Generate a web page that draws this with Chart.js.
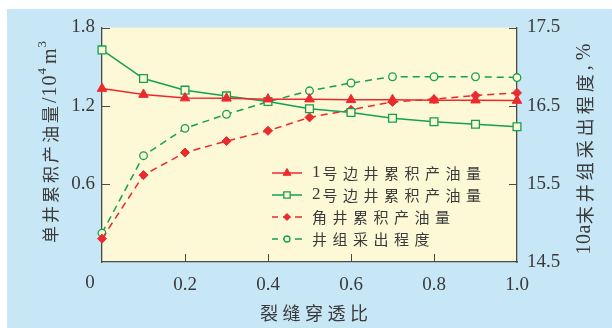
<!DOCTYPE html>
<html>
<head>
<meta charset="utf-8">
<script src="https://cdn.jsdelivr.net/npm/chart.js@4/dist/chart.umd.min.js"></script>
<style>
  html, body { margin: 0; padding: 0; background: #ffffff; }
  canvas { display: block; }
</style>
</head>
<body>
<canvas id="c" width="612" height="328"></canvas>
<script>
// Fracture penetration ratio (x) and tick labels
const penetration = [0, 0.1, 0.2, 0.3, 0.4, 0.5, 0.6, 0.7, 0.8, 0.9, 1.0];
const xTickLabels = ['0', '0.2', '0.4', '0.6', '0.8', '1.0'];
const leftTickLabels = ['', '0.6', '1.2', '1.8'];
const rightTickLabels = ['14.5', '15.5', '16.5', '17.5'];

// Cumulative oil per well, 10^4 m^3 (left axis)
const edgeWell1 = [1.331, 1.285, 1.258, 1.256, 1.250, 1.250, 1.245, 1.245, 1.242, 1.242, 1.239];
const edgeWell2 = [1.628, 1.408, 1.319, 1.275, 1.232, 1.176, 1.147, 1.104, 1.076, 1.058, 1.038];
const cornerWell = [0.179, 0.667, 0.840, 0.928, 1.007, 1.110, 1.168, 1.229, 1.250, 1.278, 1.298];
// Well-group recovery after 10 years, % (right axis)
const groupRecovery = [14.87, 15.86, 16.21, 16.39, 16.55, 16.69, 16.79, 16.87, 16.87, 16.87, 16.86];

const seriesNames = ['1号边井累积产油量', '2号边井累积产油量', '角井累积产油量', '井组采出程度'];

const RED = '#ec2a2e';
const GREEN = '#16a052';
const PLOT_BG = '#fdf8d6';
const PAGE_BG = '#c8e7f6';
const INK = '#3a3a3a';
const SERIF = '"Liberation Serif", "DejaVu Serif", serif';
const CJK = '"Noto Sans CJK SC", "Noto Sans CJK TC", sans-serif';

const pts = (arr) => arr.map((v, i) => ({ x: penetration[i], y: v }));

const datasets = [
  { label: seriesNames[0], data: pts(edgeWell1), yAxisID: 'yL', borderColor: RED, backgroundColor: RED,
    pointStyle: 'triangle', pointRadius: 5.5, pointBackgroundColor: RED, pointBorderColor: RED, pointBorderWidth: 1,
    borderWidth: 1.5, legendRadius: 4.5 },
  { label: seriesNames[1], data: pts(edgeWell2), yAxisID: 'yL', borderColor: GREEN, backgroundColor: GREEN,
    pointStyle: 'rect', pointRadius: 5.5, pointBackgroundColor: PLOT_BG, pointBorderColor: GREEN, pointBorderWidth: 1.3,
    borderWidth: 1.5, legendRadius: 4.5 },
  { label: seriesNames[2], data: pts(cornerWell), yAxisID: 'yL', borderColor: RED, backgroundColor: RED,
    pointStyle: 'rectRot', pointRadius: 4.5, pointBackgroundColor: RED, pointBorderColor: RED, pointBorderWidth: 1,
    borderWidth: 1.5, borderDash: [7, 5], legendRadius: 3.5 },
  { label: seriesNames[3], data: pts(groupRecovery), yAxisID: 'yR', borderColor: GREEN, backgroundColor: GREEN,
    pointStyle: 'circle', pointRadius: 3.8, pointBackgroundColor: PLOT_BG, pointBorderColor: GREEN, pointBorderWidth: 1.3,
    borderWidth: 1.5, borderDash: [7, 5], legendRadius: 3 }
].map(d => Object.assign({ fill: false, tension: 0, clip: false, pointHoverRadius: d.pointRadius }, d));

// Draw text as a sequence of runs, each with its own font, spacing and rise
function runsWidth(ctx, runs) {
  let w = 0;
  runs.forEach((r, ri) => {
    ctx.font = r.font;
    const chars = Array.from(r.text);
    chars.forEach((ch, ci) => {
      w += ctx.measureText(ch).width;
      if (!(ri === runs.length - 1 && ci === chars.length - 1)) w += (r.sp || 0);
    });
  });
  return w;
}
function drawRuns(ctx, runs, x, y) {
  runs.forEach(r => {
    ctx.font = r.font;
    Array.from(r.text).forEach(ch => {
      ctx.fillText(ch, x, y - (r.rise || 0));
      x += ctx.measureText(ch).width + (r.sp || 0);
    });
  });
}
function drawRunsCentered(ctx, runs, cx, cy, angle) {
  ctx.save();
  ctx.translate(cx, cy);
  ctx.rotate(angle);
  ctx.textAlign = 'left';
  ctx.textBaseline = 'middle';
  drawRuns(ctx, runs, -runsWidth(ctx, runs) / 2, 0);
  ctx.restore();
}

const backdrop = {
  id: 'backdrop',
  beforeDraw(chart) {
    const { ctx, chartArea: a } = chart;
    ctx.save();
    ctx.fillStyle = '#ffffff';
    ctx.fillRect(0, 0, chart.width, chart.height);
    ctx.fillStyle = PAGE_BG;
    ctx.fillRect(7, 9, chart.width - 7, chart.height - 9);
    ctx.fillStyle = PLOT_BG;
    ctx.fillRect(a.left, a.top, a.right - a.left, a.bottom - a.top);
    ctx.restore();
  }
};

// Inward tick marks on the three axes
const innerTicks = {
  id: 'innerTicks',
  beforeDatasetsDraw(chart) {
    const { ctx, scales } = chart;
    const L = 8;
    ctx.save();
    ctx.strokeStyle = '#4a4a4a';
    ctx.lineWidth = 1;
    ctx.beginPath();
    scales.x.ticks.forEach(t => {
      if (t.value <= 0 || t.value >= 1) return;
      const px = Math.round(scales.x.getPixelForValue(t.value)) + 0.5;
      ctx.moveTo(px, scales.x.top);
      ctx.lineTo(px, scales.x.top - L);
    });
    scales.yL.ticks.forEach(t => {
      if (t.value <= 0) return;
      const py = Math.round(scales.yL.getPixelForValue(t.value)) + 0.5;
      ctx.moveTo(scales.yL.right, py);
      ctx.lineTo(scales.yL.right + L, py);
    });
    scales.yR.ticks.forEach(t => {
      if (t.value <= scales.yR.min) return;
      const py = Math.round(scales.yR.getPixelForValue(t.value)) + 0.5;
      ctx.moveTo(scales.yR.left, py);
      ctx.lineTo(scales.yR.left - L, py);
    });
    ctx.stroke();
    ctx.restore();
  }
};

const annotations = {
  id: 'annotations',
  afterDraw(chart) {
    const { ctx, scales, chartArea: a } = chart;
    const H = Chart.helpers;
    ctx.save();
    ctx.fillStyle = INK;

    // origin label of the x axis, set left of the y axis
    ctx.font = '19px ' + SERIF;
    ctx.textAlign = 'center';
    ctx.textBaseline = 'top';
    ctx.fillText(xTickLabels[0], scales.x.getPixelForValue(0) - 12, scales.x.top + 12);

    // axis titles
    drawRunsCentered(ctx, [{ text: '裂缝穿透比', font: '18px ' + CJK, sp: 4.5 }], 314, 313, 0);
    drawRunsCentered(ctx, [
      { text: '单井累积产油量', font: '17px ' + CJK, sp: 3 },
      { text: '/10', font: '20px ' + SERIF, sp: 1 },
      { text: '4', font: '13px ' + SERIF, sp: 4, rise: 8 },
      { text: 'm', font: '20px ' + SERIF, sp: 1 },
      { text: '3', font: '13px ' + SERIF, rise: 8 }
    ], 51, 142, -Math.PI / 2);
    drawRunsCentered(ctx, [
      { text: '10a', font: '20px ' + SERIF, sp: 0.5 },
      { text: '末井组采出程度', font: '18px ' + CJK, sp: 4 },
      { text: ',', font: '20px ' + SERIF, sp: 5 },
      { text: '%', font: '20px ' + SERIF }
    ], 585, 149, -Math.PI / 2);

    // legend inside the plot
    const lx0 = 272, lx1 = 302, tx = 312;
    chart.data.datasets.forEach((ds, i) => {
      const y = 173 + i * 22;
      ctx.save();
      ctx.strokeStyle = ds.borderColor;
      ctx.lineWidth = 1.5;
      ctx.setLineDash(ds.borderDash || []);
      if (ds.borderDash) ctx.lineDashOffset = 1;
      ctx.beginPath();
      ctx.moveTo(lx0, y);
      ctx.lineTo(lx1, y);
      ctx.stroke();
      ctx.setLineDash([]);
      ctx.fillStyle = ds.pointBackgroundColor;
      ctx.strokeStyle = ds.pointBorderColor;
      ctx.lineWidth = ds.pointBorderWidth;
      H.drawPoint(ctx, { pointStyle: ds.pointStyle, radius: ds.legendRadius, rotation: 0, borderWidth: ds.pointBorderWidth }, (lx0 + lx1) / 2, y);
      ctx.restore();

      const label = ds.label;
      const runs = [];
      if (/^[0-9]/.test(label)) {
        runs.push({ text: label[0], font: '17px ' + SERIF, sp: 2 });
        runs.push({ text: label.slice(1), font: '15px ' + CJK, sp: 5.5 });
      } else {
        runs.push({ text: label, font: '15px ' + CJK, sp: 5.5 });
      }
      ctx.fillStyle = INK;
      ctx.textAlign = 'left';
      ctx.textBaseline = 'middle';
      drawRuns(ctx, runs, tx, y);
    });
    ctx.restore();
  }
};

new Chart(document.getElementById('c'), {
  type: 'line',
  data: { datasets },
  options: {
    responsive: false,
    devicePixelRatio: 1,
    animation: false,
    events: [],
    layout: { padding: { top: 27.5, left: 0, right: 0, bottom: 0 } },
    plugins: { legend: { display: false }, tooltip: { enabled: false }, title: { display: false } },
    scales: {
      x: {
        type: 'linear', position: 'bottom', min: 0, max: 1,
        grid: { display: false, drawTicks: false },
        border: { display: true, color: '#4a4a4a', width: 1.3 },
        ticks: {
          stepSize: 0.2, padding: 12, color: INK, font: { family: SERIF, size: 19 }, maxRotation: 0,
          callback: (v, i) => (i === 0 ? '' : xTickLabels[i])
        },
        afterFit: s => { s.height = 66; }
      },
      yL: {
        type: 'linear', position: 'left', min: 0, max: 1.8,
        grid: { display: false, drawTicks: false },
        border: { display: true, color: '#4a4a4a', width: 1.3 },
        ticks: {
          stepSize: 0.6, padding: 7, color: INK, font: { family: SERIF, size: 19 },
          callback: (v, i) => leftTickLabels[i]
        },
        afterFit: s => { s.width = 102; }
      },
      yR: {
        type: 'linear', position: 'right', min: 14.5, max: 17.5,
        grid: { display: false, drawTicks: false },
        border: { display: true, color: '#4a4a4a', width: 1.3 },
        ticks: {
          stepSize: 1, padding: 10, color: INK, font: { family: SERIF, size: 19 },
          callback: (v, i) => rightTickLabels[i]
        },
        afterFit: s => { s.width = 95; }
      }
    }
  },
  plugins: [backdrop, innerTicks, annotations]
});
</script>
</body>
</html>
